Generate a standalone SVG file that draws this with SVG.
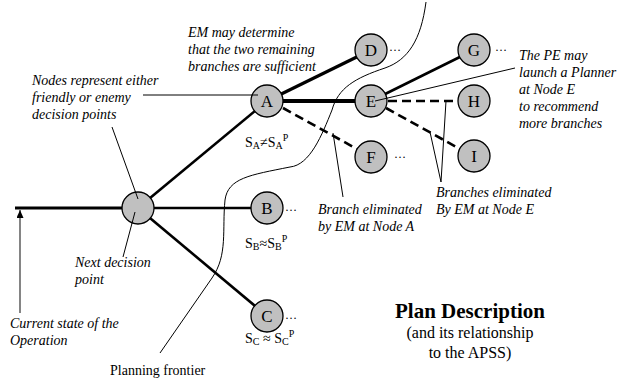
<svg xmlns="http://www.w3.org/2000/svg" width="618" height="379" viewBox="0 0 618 379">
<defs>
<style>
.node{fill:#c0c0c0;stroke:#000;stroke-width:1.3}
.nl{font-family:"Liberation Serif",serif;font-size:17px;text-anchor:middle;fill:#000}
.it{font-family:"Liberation Serif",serif;font-size:14px;font-style:italic;fill:#000}
.rm{font-family:"Liberation Serif",serif;font-size:14px;fill:#000}
.sm{font-size:10px}
.dots{font-family:"Liberation Serif",serif;font-size:12px;fill:#000}
.br{stroke:#000;fill:none}
.dash{stroke:#000;fill:none;stroke-width:2.6;stroke-dasharray:9 5}
.thin{stroke:#000;stroke-width:1;fill:none}
</style>
<marker id="ah" markerWidth="8" markerHeight="7" refX="8" refY="3.5" orient="auto" markerUnits="userSpaceOnUse" viewBox="0 0 8 7">
<path d="M0,0 L8,3.5 L0,7 Z" fill="#000"/>
</marker>
</defs>
<rect width="618" height="379" fill="#fff"/>

<g id="connectors">
<line class="br" x1="15" y1="208" x2="138" y2="208" stroke-width="2.8"/>
<line class="br" x1="138" y1="208" x2="267" y2="101" stroke-width="2.6"/>
<line class="br" x1="138" y1="208" x2="267" y2="208" stroke-width="2.6"/>
<line class="br" x1="138" y1="208" x2="267" y2="316" stroke-width="2.6"/>
<line class="br" x1="267" y1="101" x2="371" y2="50" stroke-width="3.2"/>
<line class="br" x1="267" y1="101" x2="371" y2="101" stroke-width="4.2"/>
<line class="dash" x1="283" y1="108" x2="357" y2="149"/>
<line class="br" x1="371" y1="101" x2="474" y2="50" stroke-width="2.6"/>
<line class="dash" x1="388" y1="101" x2="458" y2="101"/>
<line class="dash" x1="386" y1="108" x2="460" y2="149"/>
</g>

<g id="frontier">
<path class="thin" d="M426,2 C421,40 408,60 385,68 C355,78 338,88 332,110 C322,135 310,165 290,167 C250,175 228,178 225,200 C222,230 228,255 212,278 L160,353"/>
</g>

<g id="node-root"><circle class="node" cx="138" cy="208" r="16"/></g>
<g id="node-A"><circle class="node" cx="267" cy="101" r="16"/><text class="nl" x="267" y="107">A</text></g>
<g id="node-B"><circle class="node" cx="267" cy="208" r="16"/><text class="nl" x="267" y="214">B</text><text class="dots" x="285" y="211">…</text></g>
<g id="node-C"><circle class="node" cx="267" cy="316" r="16"/><text class="nl" x="267" y="322">C</text><text class="dots" x="285" y="319">…</text></g>
<g id="node-D"><circle class="node" cx="371" cy="50" r="16"/><text class="nl" x="371" y="56">D</text><text class="dots" x="389" y="51">…</text></g>
<g id="node-E"><circle class="node" cx="371" cy="101" r="16"/><text class="nl" x="371" y="107">E</text></g>
<g id="node-F"><circle class="node" cx="371" cy="157" r="16"/><text class="nl" x="371" y="163">F</text><text class="dots" x="394" y="158">…</text></g>
<g id="node-G"><circle class="node" cx="474" cy="50" r="16"/><text class="nl" x="474" y="56">G</text><text class="dots" x="495" y="51">…</text></g>
<g id="node-H"><circle class="node" cx="474" cy="101" r="16"/><text class="nl" x="474" y="107">H</text></g>
<g id="node-I"><circle class="node" cx="474" cy="156" r="16"/><text class="nl" x="474" y="162">I</text></g>

<g id="annotations">
<line class="thin" x1="143" y1="95" x2="258" y2="95"/>
<line class="thin" x1="112" y1="127" x2="138" y2="199"/>
<line class="thin" x1="123" y1="257" x2="135" y2="212"/>
<line x1="20" y1="313" x2="20" y2="210" stroke="#333" stroke-width="1.2" marker-end="url(#ah)"/>
<line class="thin" x1="515" y1="68" x2="375" y2="101"/>
<line class="thin" x1="333" y1="133" x2="343" y2="197"/>
<line class="thin" x1="446" y1="101" x2="441" y2="182"/>
<line class="thin" x1="430" y1="132" x2="441" y2="182"/>

<text class="it" x="188" y="37">EM may determine</text>
<text class="it" x="188" y="54">that the two remaining</text>
<text class="it" x="188" y="71">branches are sufficient</text>
<text class="it" x="32" y="85">Nodes represent either</text>
<text class="it" x="32" y="102">friendly or enemy</text>
<text class="it" x="32" y="119">decision points</text>
<text class="it" x="75" y="267">Next decision</text>
<text class="it" x="75" y="284">point</text>
<text class="it" x="10" y="328">Current state of the</text>
<text class="it" x="10" y="345">Operation</text>
<text class="rm" x="110" y="375">Planning frontier</text>
<text class="it" x="318" y="214">Branch eliminated</text>
<text class="it" x="318" y="231">by EM at Node A</text>
<text class="it" x="436" y="197">Branches eliminated</text>
<text class="it" x="436" y="214">By EM at Node E</text>
<text class="it" x="519" y="60">The PE may</text>
<text class="it" x="519" y="77">launch a Planner</text>
<text class="it" x="519" y="94">at Node E</text>
<text class="it" x="519" y="111">to recommend</text>
<text class="it" x="519" y="128">more branches</text>

<text class="rm" x="245" y="147">S<tspan class="sm" dy="2">A</tspan><tspan dy="-2">≠S</tspan><tspan class="sm" dy="2">A</tspan><tspan class="sm" dy="-8">P</tspan></text>
<text class="rm" x="245" y="248">S<tspan class="sm" dy="2">B</tspan><tspan dy="-2">≈S</tspan><tspan class="sm" dy="2">B</tspan><tspan class="sm" dy="-8">P</tspan></text>
<text class="rm" x="245" y="343">S<tspan class="sm" dy="2">C</tspan><tspan dy="-2"> ≈ S</tspan><tspan class="sm" dy="2">C</tspan><tspan class="sm" dy="-8">P</tspan></text>

<text x="470" y="318" font-family="'Liberation Serif',serif" font-size="21" font-weight="bold" text-anchor="middle">Plan Description</text>
<text x="470" y="338" font-family="'Liberation Serif',serif" font-size="16" text-anchor="middle">(and its relationship</text>
<text x="470" y="358" font-family="'Liberation Serif',serif" font-size="16" text-anchor="middle">to the APSS)</text>
</g>
</svg>
